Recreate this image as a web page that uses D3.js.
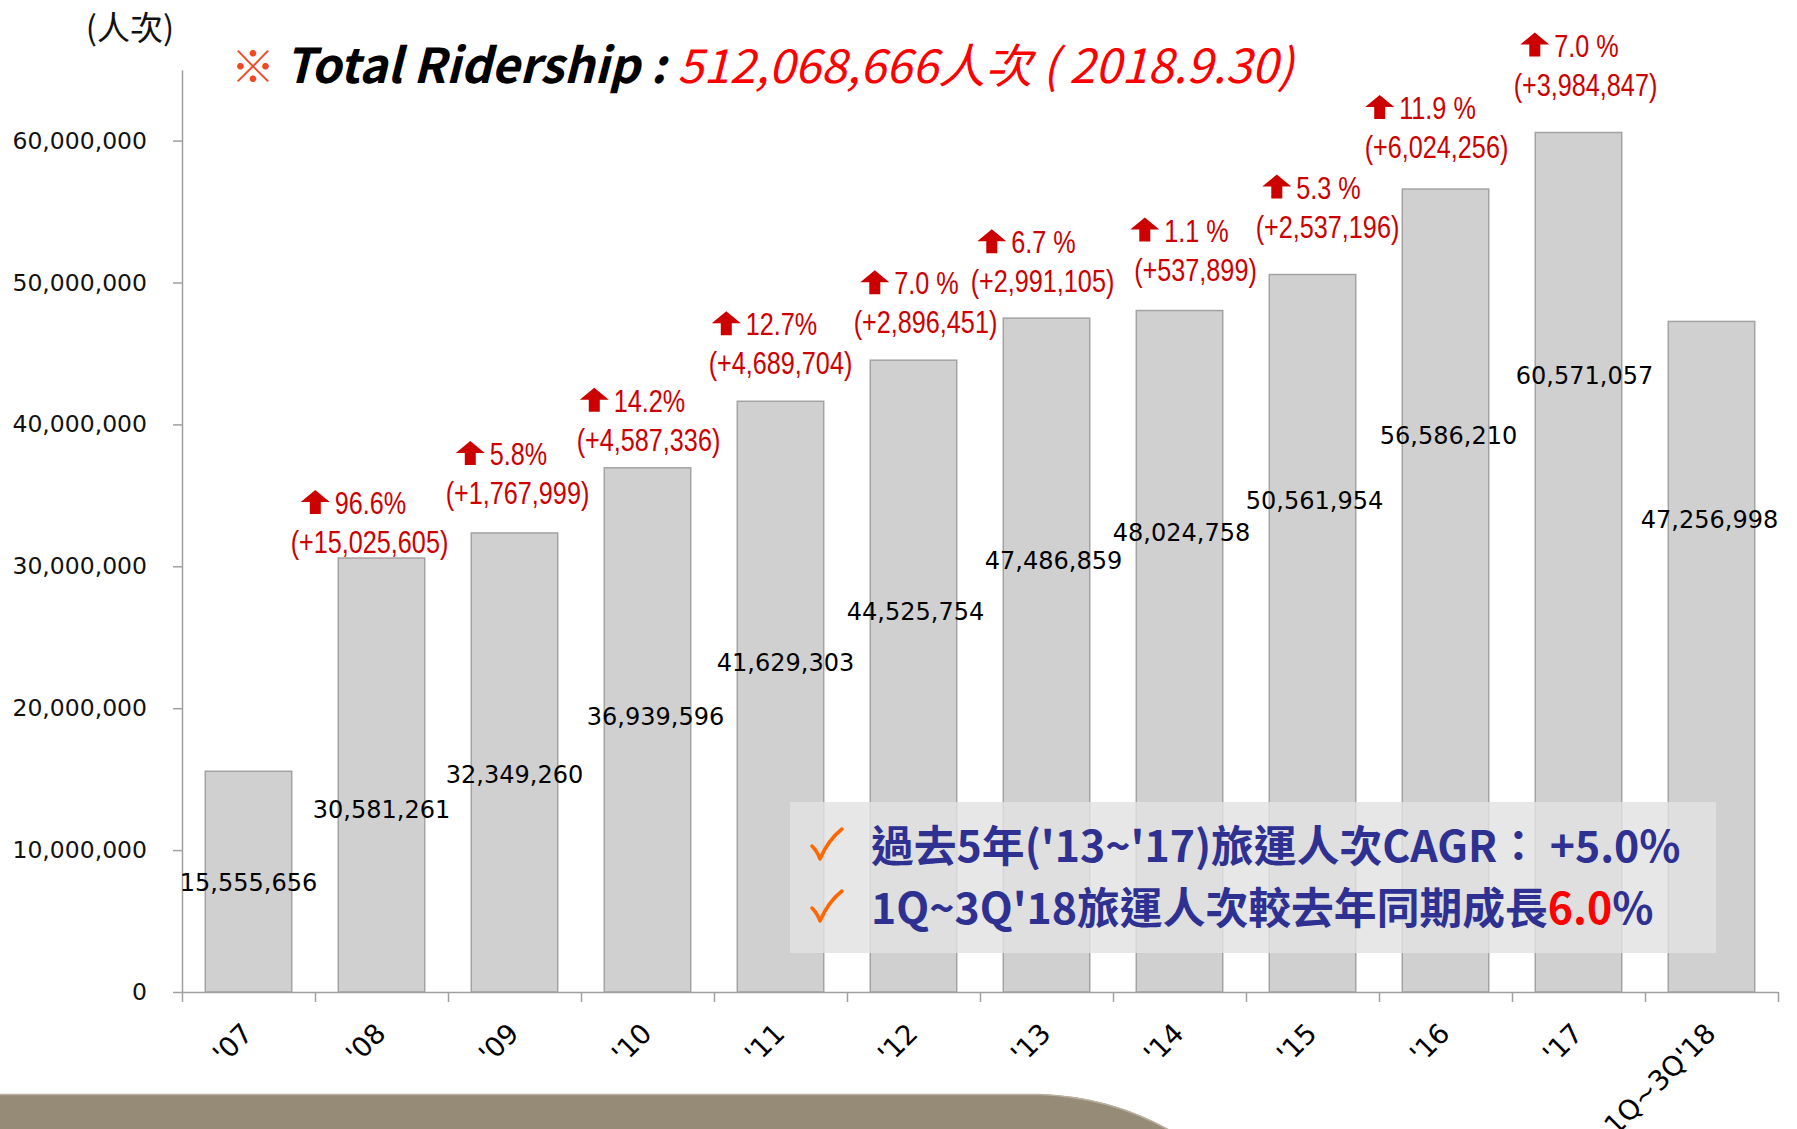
<!DOCTYPE html>
<html>
<head>
<meta charset="utf-8">
<script src="https://cdn.jsdelivr.net/npm/d3@7"></script>
<style>
  html, body { margin: 0; padding: 0; background: #fff; }
  svg { display: block; }
</style>
</head>
<body>
<div id="chart"></div>
<script>
// data
var years = ["'07", "'08", "'09", "'10", "'11", "'12", "'13", "'14", "'15", "'16", "'17", "1Q~3Q'18"];
var riders = [15555656, 30581261, 32349260, 36939596, 41629303, 44525754,
  47486859, 48024758, 50561954, 56586210, 60571057, 47256998];
// yearly growth, '08 .. '17
var growthPct = ['96.6%', '5.8%', '14.2%', '12.7%', '7.0 %', '6.7 %', '1.1 %', '5.3 %', '11.9 %', '7.0 %'];
var growthAbs = [15025605, 1767999, 4587336, 4689704, 2896451, 2991105, 537899, 2537196, 6024256, 3984847];
var yTicks = [0, 10000000, 20000000, 30000000, 40000000, 50000000, 60000000];

// hand placement of labels (px), like the original slide
var valNudge = [[0, 111], [0, 251], [0, 241], [8, 249], [5, 261], [2, 251],
  [7, 242], [2, 222], [2, 226], [3, 246], [6, 243], [-2, 198]];
var growNudge = [[-12, -16], [3, -40], [1, -28], [0, -38], [12, -38],
  [-4, -37], [16, -41], [15, -48], [-9, -42], [7, -48]];

var W = 1797, H = 1129;
var svg = d3.select('#chart').append('svg')
  .attr('width', W).attr('height', H);

// bottom band of the slide
svg.append('path')
  .attr('d', 'M0,1094 L1040,1094 C1090,1096 1130,1108 1168,1129 L0,1129 Z')
  .attr('fill', '#968b77');
svg.append('path')
  .attr('d', 'M0,1094.5 L1040,1094.5 C1090,1096.5 1130,1108.5 1168,1129.5')
  .attr('fill', 'none').attr('stroke', '#b9b0a1').attr('stroke-width', 1.5);

// scales
var x = d3.scaleBand().domain(years).range([182, 1778]).padding(0);
var xEdge = d3.scaleLinear().domain([0, years.length]).range([182, 1778]);
var y = d3.scaleLinear().domain([0, 65000000]).range([992, 992 - 6.5 * 141.9]);
var barW = x.bandwidth() * 0.65;

// bars
svg.append('g').selectAll('rect')
  .data(riders)
  .join('rect')
  .attr('x', (d, i) => x(years[i]) + (x.bandwidth() - barW) / 2)
  .attr('y', d => y(d))
  .attr('width', barW)
  .attr('height', d => y(0) - y(d))
  .attr('fill', '#d0d0d0')
  .attr('stroke', '#a3a3a3')
  .attr('stroke-width', 1.5);

// y axis
var yAxis = svg.append('g')
  .attr('transform', 'translate(182,0)')
  .call(d3.axisLeft(y).tickValues(yTicks).tickFormat(d3.format(','))
    .tickSize(9).tickSizeOuter(0).tickPadding(26));
yAxis.select('.domain').attr('stroke', '#a0a0a0').attr('stroke-width', 1.5);
yAxis.selectAll('.tick line').attr('stroke', '#a0a0a0').attr('stroke-width', 1.5);
yAxis.selectAll('.tick text')
  .attr('fill', '#111')
  .style('font-family', 'DejaVu Sans')
  .style('font-size', '23.5px');

// x axis, ticks on band edges
var xAxis = svg.append('g')
  .attr('transform', 'translate(0,992)')
  .call(d3.axisBottom(xEdge).ticks(years.length).tickFormat('')
    .tickSize(10).tickSizeOuter(0));
xAxis.select('.domain').attr('stroke', '#a0a0a0').attr('stroke-width', 1.5);
xAxis.selectAll('.tick line').attr('stroke', '#a0a0a0').attr('stroke-width', 1.5);

svg.append('g').selectAll('text')
  .data(years)
  .join('text')
  .attr('transform', d => 'translate(' + (x(d) + x.bandwidth() / 2 + 6) + ',1035) rotate(-45)')
  .attr('text-anchor', 'end')
  .style('font-family', 'DejaVu Sans')
  .style('font-size', '27.5px')
  .attr('fill', '#000')
  .text(d => d);

// value labels
svg.append('g').selectAll('text')
  .data(riders)
  .join('text')
  .attr('x', (d, i) => x(years[i]) + x.bandwidth() / 2 + valNudge[i][0])
  .attr('y', (d, i) => y(d) + valNudge[i][1])
  .attr('dy', '0.36em')
  .attr('text-anchor', 'middle')
  .style('font-family', 'DejaVu Sans')
  .style('font-size', '24px')
  .attr('fill', '#000')
  .text(d => d3.format(',')(d));

// growth notes: arrow + percent, then absolute change
var red = '#cc0000';
var sx = 0.8;
var grow = svg.append('g').selectAll('g')
  .data(growthAbs)
  .join('g')
  .attr('transform', (d, i) => {
    var cx = x(years[i + 1]) + x.bandwidth() / 2 + growNudge[i][0];
    var cy = y(riders[i + 1]) + growNudge[i][1];
    return 'translate(' + cx + ',' + cy + ')';
  });

grow.append('text')
  .attr('transform', 'scale(' + sx + ',1)')
  .attr('y', 11)
  .attr('text-anchor', 'middle')
  .style('font-family', 'Liberation Sans, Arial')
  .style('font-size', '31.5px')
  .attr('fill', red)
  .text(d => '(+' + d3.format(',')(d) + ')');

grow.each(function(d, i) {
  var g = d3.select(this);
  var t = g.append('text')
    .attr('transform', 'scale(' + sx + ',1)')
    .attr('y', -28)
    .style('font-family', 'Liberation Sans, Arial')
    .style('font-size', '31.5px')
    .attr('fill', red)
    .text(growthPct[i]);
  var tw = t.node().getComputedTextLength() * sx;
  var aw = 29, gap = 5;
  var left = -16 - (aw + gap + tw) / 2;
  t.attr('x', (left + aw + gap) / sx);
  // block arrow, bottom on the baseline
  var b = -28, top = b - 24, hx = left + aw / 2;
  g.append('path')
    .attr('d', 'M' + hx + ',' + top + ' L' + (left + aw) + ',' + (top + 12) +
      ' L' + (hx + 5.5) + ',' + (top + 12) + ' L' + (hx + 5.5) + ',' + b +
      ' L' + (hx - 5.5) + ',' + b + ' L' + (hx - 5.5) + ',' + (top + 12) +
      ' L' + left + ',' + (top + 12) + ' Z')
    .attr('fill', red);
});

// unit
svg.append('text')
  .attr('x', 130).attr('y', 40)
  .attr('text-anchor', 'middle')
  .style('font-family', 'Noto Sans CJK TC')
  .style('font-size', '33px')
  .attr('fill', '#111')
  .text('(人次)');

// title
var title = svg.append('text')
  .attr('x', 231).attr('y', 83)
  .style('font-family', 'Noto Sans CJK TC')
  .style('font-size', '48px');
title.append('tspan').attr('fill', '#f04820').style('font-size', '44px').text('※ ');
title.append('tspan').attr('fill', '#000').style('font-weight', 700)
  .style('font-style', 'italic').text('Total Ridership : ');
title.append('tspan').attr('fill', '#ff0000').style('font-style', 'italic')
  .style('font-size', '47px')
  .text('512,068,666人次 ( 2018.9.30)');

// note box
var note = svg.append('g');
note.append('rect')
  .attr('x', 790).attr('y', 802).attr('width', 926).attr('height', 151)
  .attr('fill', '#e2e2e2').attr('fill-opacity', 0.82);

var navy = '#2e3192';
[862, 924].forEach(function(by, k) {
  // orange tick mark
  note.append('path')
    .attr('d', 'M812,' + (by - 16) + ' Q817,' + (by - 11) + ' 820,' + (by - 3) +
      ' Q828,' + (by - 22) + ' 842,' + (by - 33))
    .attr('fill', 'none')
    .attr('stroke', '#ff6600')
    .attr('stroke-width', 3.5)
    .attr('stroke-linecap', 'round')
    .attr('stroke-linejoin', 'round');
  var t = note.append('text')
    .attr('x', 871).attr('y', by)
    .style('font-family', 'Noto Sans CJK TC')
    .style('font-weight', 700)
    .style('font-size', '42.8px')
    .attr('fill', navy);
  if (k === 0) {
    t.text("過去5年('13~'17)旅運人次CAGR： +5.0%");
  } else {
    t.append('tspan').text("1Q~3Q'18旅運人次較去年同期成長");
    t.append('tspan').attr('fill', '#ff0000').text('6.0');
    t.append('tspan').text('%');
  }
});
</script>
</body>
</html>
